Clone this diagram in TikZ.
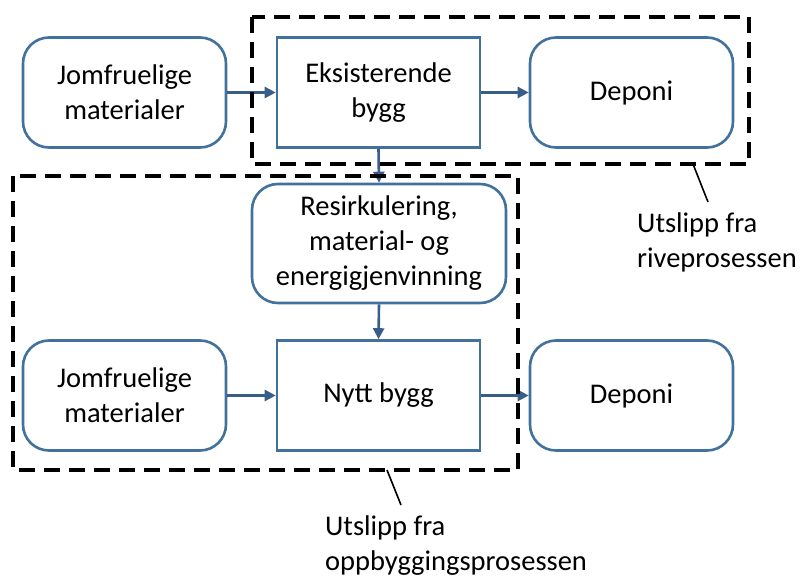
\documentclass[tikz,border=0pt]{standalone}
\usepackage{fontspec}
\setmainfont{Carlito}
\usetikzlibrary{positioning,arrows.meta}
\definecolor{kant}{HTML}{41719C}
\definecolor{pilfarge}{HTML}{385D8A}
\tikzset{
  boks/.style={draw=kant, line width=2.6pt, fill=white, minimum width=203pt,
    minimum height=110pt, align=center, inner sep=2pt,
    font=\fontsize{28.5}{35}\selectfont},
  rund/.style={boks, rounded corners=26pt},
  pil/.style={draw=pilfarge, line width=2.6pt, -{Triangle[length=11pt,width=11pt]}},
  stiplet/.style={draw=black, line width=3.6pt, dash pattern=on 16pt off 9pt},
  merknad/.style={align=left, inner sep=0pt, font=\fontsize{28.5}{35}\selectfont}
}
\begin{document}
\begin{tikzpicture}[x=1pt,y=-1pt]
\useasboundingbox (0,0) rectangle (801,578);
% boksene
\node[rund] (jomf1) at (124.5,92.5) {Jomfruelige\\materialer};
\node[boks] (eks) at (378.5,92.5) {Eksisterende\\bygg};
\node[rund] (dep1) at (631.5,92.5) {Deponi};
\node[rund, minimum width=254pt, minimum height=119pt] (resirk) at (379,243.5)
  {Resirkulering,\\material- og\\energigjenvinning};
\node[rund] (jomf2) at (124.5,395.5) {Jomfruelige\\materialer};
\node[boks] (nytt) at (378.5,395.5) {Nytt bygg};
\node[rund] (dep2) at (631.5,395.5) {Deponi};
% pilene
\draw[pil] (jomf1) -- (eks);
\draw[pil] (eks) -- (dep1);
\draw[pil] (eks.south) -- (resirk.north);
\draw[pil] (resirk.south) -- (nytt.north);
\draw[pil] (jomf2) -- (nytt);
\draw[pil] (nytt) -- (dep2);
% stiplede rammer
\draw[stiplet] (252,17) rectangle (749,164);
\draw[stiplet] (13,176) rectangle (518,470);
% merknader
\coordinate (rive) at (693,164);
\coordinate (oppb) at (387,470);
\node[merknad, anchor=north west] (tekst1) at (637,213) {Utslipp fra\\riveprosessen};
\node[merknad, anchor=north west] (tekst2) at (325,516) {Utslipp fra\\oppbyggingsprosessen};
\draw[line width=1.6pt] (rive) -- (708,202);
\draw[line width=1.6pt] (oppb) -- (401,505);
\end{tikzpicture}
\end{document}
